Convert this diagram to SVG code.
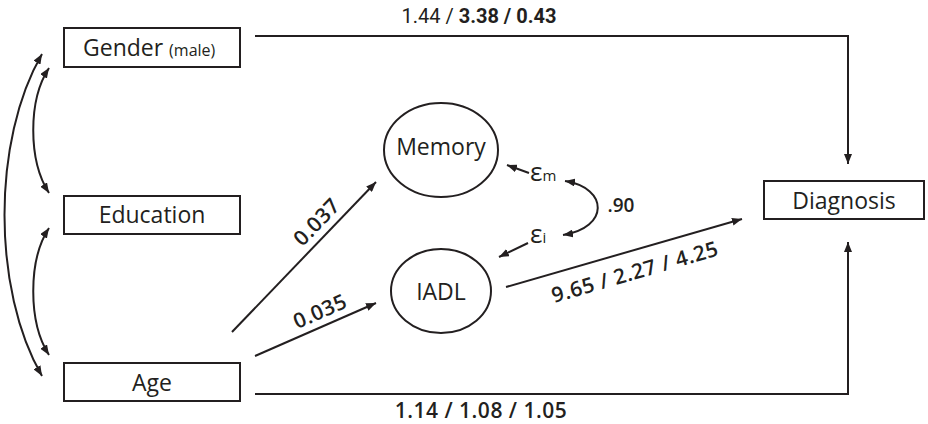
<svg xmlns="http://www.w3.org/2000/svg" width="928" height="424" viewBox="0 0 928 424">
  <defs>
    <marker id="arrow" viewBox="0 0 10 8" refX="10" refY="4" markerWidth="10" markerHeight="8" markerUnits="userSpaceOnUse" orient="auto-start-reverse">
      <path d="M0,0 L10,4 L0,8 Z" fill="#231f20"/>
    </marker>
  </defs>
  <style>
    .box { fill: #ffffff; stroke: #231f20; stroke-width: 2; }
    .node-label { font-family: "Open Sans", "Noto Sans", sans-serif; font-size: 23px; fill: #231f20; }
    .small { font-size: 16px; }
    .edge { fill: none; stroke: #231f20; stroke-width: 2; }
    .coef { font-family: "Open Sans", "Noto Sans", sans-serif; font-weight: 600; font-size: 21px; letter-spacing: 0.5px; fill: #231f20; }
    .coef-top { font-family: Roboto, "Liberation Sans", sans-serif; font-size: 20px; fill: #231f20; }
    .err { font-family: "Open Sans", "Noto Sans", sans-serif; font-size: 26px; fill: #231f20; }
    .sub { font-size: 15px; }
  </style>

  <!-- connectors -->
  <g id="connectors">
    <!-- covariances among the exogenous variables -->
    <path class="edge" d="M42,376 C-8,290 -8,140 42,54" marker-start="url(#arrow)" marker-end="url(#arrow)"/>
    <path class="edge" d="M49,193 C28,160 28,100 49,68" marker-start="url(#arrow)" marker-end="url(#arrow)"/>
    <path class="edge" d="M49,355 C28,322 28,260 49,228" marker-start="url(#arrow)" marker-end="url(#arrow)"/>

    <!-- Gender -> Diagnosis -->
    <path class="edge" d="M255,36 H848 V164" marker-end="url(#arrow)"/>
    <!-- Age -> Diagnosis -->
    <path class="edge" d="M255,394 H848 V242" marker-end="url(#arrow)"/>
    <!-- Age -> Memory -->
    <path class="edge" d="M232,332 L376,182" marker-end="url(#arrow)"/>
    <!-- Age -> IADL -->
    <path class="edge" d="M255,356 L376,303" marker-end="url(#arrow)"/>
    <!-- IADL -> Diagnosis -->
    <path class="edge" d="M506,287 L742,219" marker-end="url(#arrow)"/>
    <!-- residual terms -->
    <path class="edge" d="M529,173 L507,165" marker-end="url(#arrow)"/>
    <path class="edge" d="M528,243 L499,257" marker-end="url(#arrow)"/>
    <!-- residual covariance -->
    <path class="edge" d="M565,181 C609,188 609,228 563,235" marker-start="url(#arrow)" marker-end="url(#arrow)"/>

    <!-- path coefficients -->
    <text class="coef-top" x="479" y="23" text-anchor="middle">1.44 / <tspan font-weight="700">3.38 / 0.43</tspan></text>
    <text class="coef" x="481" y="418" text-anchor="middle">1.14 / 1.08 / 1.05</text>
    <text class="coef" x="322" y="227" text-anchor="middle" transform="rotate(-46 322 227)">0.037</text>
    <text class="coef" x="323" y="318" text-anchor="middle" transform="rotate(-23.7 323 318)">0.035</text>
    <text class="coef" x="637" y="279" text-anchor="middle" transform="rotate(-16.1 637 279)">9.65 / 2.27 / 4.25</text>
    <text class="coef" x="621" y="212" text-anchor="middle" style="font-size:19px;letter-spacing:0">.90</text>

    <!-- residual labels -->
    <text class="err" x="530" y="181">ε<tspan class="sub">m</tspan></text>
    <text class="err" x="530" y="243">ε<tspan class="sub">i</tspan></text>
  </g>

  <g id="gender">
    <rect class="box" x="64" y="28" width="176" height="39"/>
    <text class="node-label" x="83" y="56">Gender <tspan class="small">(male)</tspan></text>
  </g>

  <g id="education">
    <rect class="box" x="64" y="196" width="176" height="38"/>
    <text class="node-label" x="152" y="223" text-anchor="middle">Education</text>
  </g>

  <g id="age">
    <rect class="box" x="64" y="363" width="176" height="38"/>
    <text class="node-label" x="152" y="391" text-anchor="middle">Age</text>
  </g>

  <g id="memory">
    <ellipse class="box" cx="441" cy="150" rx="57" ry="47"/>
    <text class="node-label" x="441" y="155" text-anchor="middle">Memory</text>
  </g>

  <g id="iadl">
    <ellipse class="box" cx="441" cy="291" rx="50" ry="42"/>
    <text class="node-label" x="441" y="300" text-anchor="middle">IADL</text>
  </g>

  <g id="diagnosis">
    <rect class="box" x="764" y="181" width="160" height="38"/>
    <text class="node-label" x="844" y="209" text-anchor="middle">Diagnosis</text>
  </g>
</svg>
